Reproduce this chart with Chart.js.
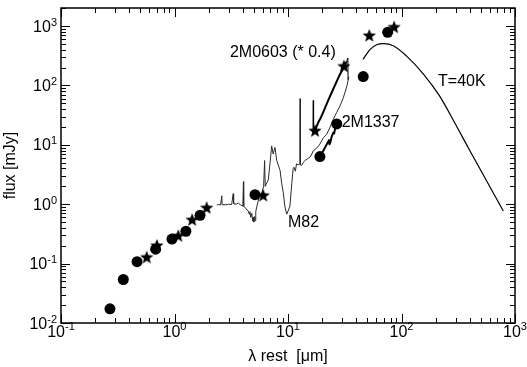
<!DOCTYPE html>
<html>
<head>
<meta charset="utf-8">
<script src="https://cdn.jsdelivr.net/npm/chart.js@4"></script>
<style>
  html, body { margin: 0; padding: 0; background: #fff; }
  canvas { display: block; }
</style>
</head>
<body>
<canvas id="sed" width="527" height="367"></canvas>
<script>
// M82 spectrum (thin line), rest wavelength [um] / flux [mJy]
const m82Wave = [2.36, 2.45, 2.55, 2.61, 2.63, 2.8, 3.0, 3.19, 3.29, 3.32, 3.5, 3.65, 3.8, 4.0, 4.05, 4.07, 4.2, 4.35, 4.47, 4.55, 4.62, 4.7, 4.8, 4.88, 4.94, 5.0, 5.06, 5.12, 5.2, 5.3, 5.41, 5.55, 5.66, 5.9, 6.1, 6.22, 6.3, 6.5, 6.7, 6.95, 7.18, 7.4, 7.68, 7.95, 8.2, 8.51, 8.8, 9.1, 9.4, 9.75, 10.1, 10.4, 10.8, 11.1, 11.3, 11.6, 11.9, 12.3, 12.75, 12.8, 12.85, 13.2, 13.6, 14.1, 14.8, 15.6, 16.2, 16.7, 17.5, 18.5, 19.1, 20.5, 21.9, 23.5, 25.1, 26.8, 28.7, 30.7, 32.9, 34.4];
const m82Flux = [0.97, 0.99, 0.97, 1.39, 0.98, 0.98, 1.0, 0.99, 1.5, 1.02, 1.0, 1.05, 0.98, 0.93, 2.4, 0.92, 0.88, 0.8, 0.77, 0.68, 0.75, 0.6, 0.7, 0.52, 0.6, 0.5, 0.62, 0.53, 0.75, 0.9, 1.05, 1.3, 1.36, 1.6, 2.0, 5.45, 2.0, 2.3, 2.55, 5.0, 9.6, 7.0, 9.06, 5.5, 4.6, 3.73, 2.25, 1.54, 0.9, 0.68, 0.8, 0.93, 2.25, 3.98, 4.2, 3.6, 4.81, 4.6, 4.8, 60, 4.6, 4.51, 5.0, 5.45, 5.8, 6.2, 7.0, 7.96, 8.5, 9.5, 10.3, 13.2, 15.0, 20, 27, 35, 45, 62, 95, 140];

// 2M0603 IRS spectrum (scaled * 0.4)
const irs0603Wave = [16.6, 16.7, 16.8, 17.3, 18.5, 19.5, 20.5, 22.5, 25.1, 28.0, 31.1, 32.9, 33.7, 33.8];
const irs0603Flux = [15, 56, 16, 17.5, 24, 29, 36, 55, 88, 140, 205, 255, 290, 125];

// 2M1337 IRS spectrum
const irs1337Wave = [19.1, 20.2, 21.2, 22.3, 23.0, 23.2, 23.6, 24.2, 25.0, 25.5, 26.0, 26.9];
const irs1337Flux = [6.35, 7.6, 9.0, 10.8, 12.0, 10.2, 11.0, 13.5, 16.0, 15.5, 19.0, 22.5];

// T=40K grey body
const bbWave = [45.8, 52.7, 60.4, 69.2, 84.7, 111, 156, 215, 300, 412, 789];
const bbFlux = [275, 403, 486, 505, 468, 312, 156, 68, 22, 7.2, 0.77];

// photometry: filled circles (2M1337) and stars (2M0603)
const dotWave = [0.270, 0.354, 0.468, 0.682, 0.95, 1.26, 1.68, 5.12, 19.1, 26.9, 46, 75.5];
const dotFlux = [0.0173, 0.054, 0.108, 0.175, 0.259, 0.351, 0.652, 1.45, 6.35, 22.5, 141, 785];
const starWave = [0.569, 0.70, 1.08, 1.43, 1.92, 6.05, 17.3, 31.1, 52, 86];
const starFlux = [0.126, 0.199, 0.29, 0.54, 0.86, 1.39, 17.0, 208, 684, 949];

// tick labels (powers of ten)
const xTickExps = [-1, 0, 1, 2, 3];
const yTickExps = [-2, -1, 0, 1, 2, 3];

const notes = [
    { text: '2M0603 (* 0.4)', x: 3.08, y: 363 },
    { text: '2M1337', x: 29.7, y: 23.4 },
    { text: 'T=40K', x: 210, y: 116 },
    { text: 'M82', x: 10.0, y: 0.494 }
];

const FONT = '"Liberation Sans", Arial, Helvetica, sans-serif';

function pts(xs, ys) {
    return xs.map((v, i) => ({ x: v, y: ys[i] }));
}

// spikes (almost vertical segments) are drawn thin
function spikeWidth(thick) {
    return ctx => (Math.abs(ctx.p0.x - ctx.p1.x) < 1.5 ? 1 : thick);
}

// filled five point star used as point style
function starImage(r) {
    const c = document.createElement('canvas');
    const s = 2 * Math.ceil(r) + 2;
    c.width = s; c.height = s;
    const g = c.getContext('2d');
    g.translate(s / 2, s / 2);
    g.beginPath();
    for (let i = 0; i < 10; i++) {
        const rad = i % 2 ? r * 0.42 : r;
        const a = -Math.PI / 2 + i * Math.PI / 5;
        g.lineTo(rad * Math.cos(a), rad * Math.sin(a));
    }
    g.closePath();
    g.fillStyle = '#000';
    g.fill();
    return c;
}

// 10^n label, align = 'center' or 'right'
function powLabel(ctx, exp, x, base, align, supRaise) {
    ctx.font = '16px ' + FONT;
    const w1 = ctx.measureText('10').width;
    ctx.font = '11px ' + FONT;
    const w2 = ctx.measureText(String(exp)).width;
    const start = align === 'right' ? x - w1 - w2 : x - (w1 + w2) / 2;
    ctx.textAlign = 'left';
    ctx.textBaseline = 'alphabetic';
    ctx.font = '16px ' + FONT;
    ctx.fillText('10', start, base);
    ctx.font = '11px ' + FONT;
    ctx.fillText(String(exp), start + w1, base - supRaise);
}

// box with inward log ticks on all four sides, labels, titles, notes
const framePlugin = {
    id: 'frame',
    afterDraw(chart) {
        const ctx = chart.ctx;
        const a = chart.chartArea;
        const xs = chart.scales.x;
        const ys = chart.scales.y;
        ctx.save();
        ctx.strokeStyle = '#000';
        ctx.fillStyle = '#000';
        ctx.lineWidth = 1;
        ctx.beginPath();
        for (let d = -1; d <= 3; d++) {
            for (let m = 1; m <= 9; m++) {
                const v = m * Math.pow(10, d);
                if (v < xs.min * 0.999 || v > xs.max * 1.001) continue;
                const px = Math.round(xs.getPixelForValue(v)) + 0.5;
                const len = m === 1 ? 9 : 5;
                ctx.moveTo(px, a.bottom); ctx.lineTo(px, a.bottom - len);
                ctx.moveTo(px, a.top); ctx.lineTo(px, a.top + len);
            }
        }
        for (let d = -2; d <= 3; d++) {
            for (let m = 1; m <= 9; m++) {
                const v = m * Math.pow(10, d);
                if (v < ys.min * 0.999 || v > ys.max * 1.001) continue;
                const py = Math.round(ys.getPixelForValue(v)) + 0.5;
                const len = m === 1 ? 9 : 5;
                ctx.moveTo(a.left, py); ctx.lineTo(a.left + len, py);
                ctx.moveTo(a.right, py); ctx.lineTo(a.right - len, py);
            }
        }
        ctx.stroke();

        ctx.lineWidth = 1.5;
        ctx.strokeRect(a.left, a.top, a.right - a.left, a.bottom - a.top);

        xTickExps.forEach(e => {
            powLabel(ctx, e, xs.getPixelForValue(Math.pow(10, e)), a.bottom + 14, 'center', 7);
        });
        yTickExps.forEach(e => {
            powLabel(ctx, e, a.left - 4, ys.getPixelForValue(Math.pow(10, e)) + 5.5, 'right', 6);
        });

        ctx.font = '16px ' + FONT;
        ctx.textAlign = 'center';
        ctx.textBaseline = 'alphabetic';
        ctx.fillText('\u03bb rest  [\u03bcm]', (a.left + a.right) / 2, 361);
        ctx.save();
        ctx.translate(15, (a.top + a.bottom) / 2);
        ctx.rotate(-Math.PI / 2);
        ctx.fillText('flux [mJy]', 0, 0);
        ctx.restore();

        ctx.textAlign = 'left';
        ctx.textBaseline = 'middle';
        notes.forEach(n => {
            ctx.fillText(n.text, xs.getPixelForValue(n.x), ys.getPixelForValue(n.y));
        });
        ctx.restore();
    }
};

const star = starImage(7);

new Chart(document.getElementById('sed'), {
    type: 'line',
    data: {
        datasets: [
            { data: pts(dotWave, dotFlux), showLine: false, pointStyle: 'circle', pointRadius: 5.5,
              pointBackgroundColor: '#000', pointBorderColor: '#000', pointBorderWidth: 0 },
            { data: pts(starWave, starFlux), showLine: false, pointStyle: star, pointRadius: 7 },
            { data: pts(irs0603Wave, irs0603Flux), borderColor: '#000', borderWidth: 2, pointRadius: 0,
              borderJoinStyle: 'round', segment: { borderWidth: spikeWidth(2) } },
            { data: pts(irs1337Wave, irs1337Flux), borderColor: '#000', borderWidth: 2, pointRadius: 0,
              borderJoinStyle: 'round' },
            { data: pts(m82Wave, m82Flux), borderColor: '#2a2a2a', borderWidth: 1, pointRadius: 0,
              borderJoinStyle: 'round' },
            { data: pts(bbWave, bbFlux), borderColor: '#000', borderWidth: 1.2, pointRadius: 0,
              cubicInterpolationMode: 'monotone' }
        ]
    },
    options: {
        responsive: false,
        animation: false,
        devicePixelRatio: 1,
        layout: { padding: { left: 61, right: 12, top: 1, bottom: 44 } },
        plugins: { legend: { display: false }, tooltip: { enabled: false } },
        scales: {
            x: { type: 'logarithmic', min: 0.1, max: 1000, display: false },
            y: { type: 'logarithmic', min: 0.01, max: 2018, display: false }
        }
    },
    plugins: [framePlugin]
});
</script>
</body>
</html>
